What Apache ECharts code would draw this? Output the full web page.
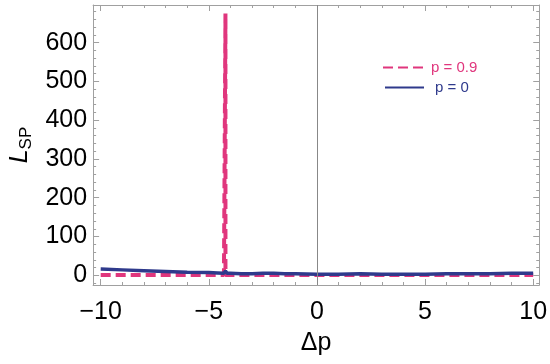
<!DOCTYPE html>
<html><head><meta charset="utf-8">
<script src="https://cdn.jsdelivr.net/npm/echarts@6/dist/echarts.min.js"></script>
<style>html,body{margin:0;padding:0;background:#fff}#c{width:550px;height:364px}</style>
</head><body><div id="c"></div>
<script>
const xTickLabels = [-10, -5, 0, 5, 10];
const yTickLabels = [0, 100, 200, 300, 400, 500, 600];
const xMinorTicks = [-10,-9,-8,-7,-6,-5,-4,-3,-2,-1,0,1,2,3,4,5,6,7,8,9,10];
const yMinorTicks = [-20,0,20,40,60,80,100,120,140,160,180,200,220,240,260,280,300,320,340,360,380,400,420,440,460,480,500,520,540,560,580,600,620,640,660,680];
const seriesNames = ['p = 0.9', 'p = 0'];
const dp = [-10, -9, -8, -7, -6, -5, -4.6, -4.3, -4.23, -4.23, -4.23, -4.15, -4, -3.5, -3, -2.5, -2, -1.5, -1, 0, 1, 2, 3, 4, 5, 6, 7, 8, 9, 10];
const p09 = [1, 1, 1, 1, 1, 1, 1, 1, 1, 675, 1, 1, 1, 1, 1, 1, 1, 1, 1, 1, 1, 1, 1, 1, 1, 1, 1, 1, 1, 1];
const p0  = [16, 14, 12, 10, 8, 7, 6, 5, 7, 11, 7, 5, 5, 4, 4, 5, 5, 4, 4, 3, 3, 4, 3, 3, 3, 4, 4, 4, 5, 5];

const pink = '#e0367d', blue = '#2f3a8c', frame = '#a0a0a0';
const XMIN = -10.35, XMAX = 10.28, YMIN = -25, YMAX = 697;
const font = 'Liberation Sans, Arial, sans-serif';

function xAx(pos, major, labels) {
  return {type:'value', position:pos, min:XMIN, max:XMAX, gridIndex:0,
    axisLine:{show:major, onZero:false, lineStyle:{color:frame, width:1}},
    splitLine:{show:false},
    axisTick:{show:true, inside:true, length:major?6:3, customValues: major?xTickLabels:xMinorTicks, lineStyle:{color:frame}},
    axisLabel:{show:labels, customValues:xTickLabels, fontSize:25, color:'#000', fontFamily:font, margin:15,
      formatter:v=> v<0 ? '\u2212' + Math.abs(v) : String(v)},
    name: labels ? '\u0394p' : '', nameLocation:'middle', nameGap:46,
    nameTextStyle:{fontSize:25, color:'#000', fontFamily:font}};
}
function yAx(pos, major, labels) {
  return {type:'value', position:pos, min:YMIN, max:YMAX, gridIndex:0,
    axisLine:{show:major, onZero:false, lineStyle:{color:frame, width:1}},
    splitLine:{show:false},
    axisTick:{show:true, inside:true, length:major?6:3, customValues: major?yTickLabels:yMinorTicks, lineStyle:{color:frame}},
    axisLabel:{show:labels, customValues:yTickLabels, fontSize:25, color:'#000', fontFamily:font, margin:6},
    name: labels ? '{L|L}{s|SP}' : '', nameLocation:'middle', nameGap:54, nameRotate:90,
    nameTextStyle:{fontFamily:font, color:'#000', rich:{
      L:{fontSize:25, fontStyle:'italic', fontFamily:font, color:'#000', lineHeight:28},
      s:{fontSize:17, fontFamily:font, color:'#000', verticalAlign:'bottom', lineHeight:14}}}};
}

const chart = echarts.init(document.getElementById('c'));
chart.setOption({
  animation:false,
  backgroundColor:'#fff',
  grid:{left:87, right:8, top:5, bottom:79},
  legend:[
    {data:[{name:seriesNames[0], textStyle:{color:pink}}], left:377, top:55, itemWidth:40, itemHeight:14,
      itemStyle:{opacity:0}, textStyle:{fontSize:15, fontFamily:font, padding:[0,0,0,3]}},
    {data:[{name:seriesNames[1], textStyle:{color:blue}}], left:379, top:75, itemWidth:39, itemHeight:14,
      itemStyle:{opacity:0}, textStyle:{fontSize:15, fontFamily:font, padding:[0,0,0,6]}}
  ],
  xAxis:[xAx('bottom', true, true), xAx('bottom', false, false), xAx('top', true, false), xAx('top', false, false)],
  yAxis:[yAx('left', true, true), yAx('left', false, false), yAx('right', true, false), yAx('right', false, false)],
  series:[
    {name:seriesNames[1], type:'line', xAxisIndex:0, yAxisIndex:0, data:dp.map((x,i)=>[x,p0[i]]),
      showSymbol:false, symbol:'none', lineStyle:{color:blue, width:3.5}, itemStyle:{color:blue}, z:3,
      markLine:{silent:true, symbol:'none', label:{show:false}, lineStyle:{color:'#888', width:1, type:'solid'},
        data:[{xAxis:0}]}},
    {name:seriesNames[0], type:'line', xAxisIndex:0, yAxisIndex:0, data:dp.map((x,i)=>[x,p09[i]]),
      showSymbol:false, symbol:'none', lineStyle:{color:pink, width:4, type:[10,5]}, itemStyle:{color:pink}, z:2}
  ]
});
</script></body></html>
